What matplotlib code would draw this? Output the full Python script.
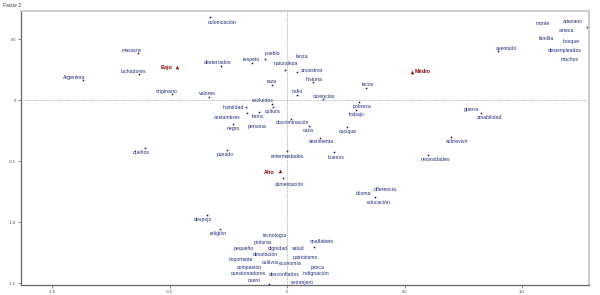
import matplotlib
matplotlib.use("Agg")
import matplotlib.pyplot as plt

# Word coordinates (Factor 1, Factor 2)
words = ["masacre", "luchadores", "Argentina", "originario", "colonización", "desterrados",
         "respeto", "pueblo", "naturaleza", "lanza", "ancestros", "historia", "raza", "indio",
         "carencias", "tacos", "valores", "excluidos", "cultura", "humildad", "costumbres",
         "tierra", "negro", "persona", "discriminación", "caza", "vestimenta", "cacique",
         "pobreza", "trabajo", "pasado", "enfermedades", "buenos", "alimentación", "diferencia",
         "idioma", "educación", "guerra", "amabilidad", "sobrevivir", "necesidades", "dueños",
         "monte", "artesano", "azteca", "familia", "bosque", "asentado", "desempleados", "muchos",
         "despojo", "religión", "tecnología", "pinturas", "pequeño", "dignidad", "salud",
         "analfabeto", "desolación", "patriotismo", "importante", "cultivos", "economía",
         "compasión", "pesca", "cuestionadores", "desconfiados", "indignación", "cuero",
         "extranjero"]
f1 = [-0.634, -0.630, -0.868, -0.489, -0.328, -0.281,
      -0.149, -0.094, -0.009, 0.064, 0.043, 0.111, -0.064, 0.043,
      0.153, 0.336, -0.332, -0.064, -0.060, -0.174, -0.170,
      -0.119, -0.230, -0.128, 0.017, 0.094, 0.140, 0.255,
      0.306, 0.294, -0.255, 0.000, 0.200, -0.017, 0.417,
      0.323, 0.374, 0.783, 0.826, 0.698, 0.600, -0.604,
      1.089, 1.277, 1.187, 1.106, 1.209, 0.898, 1.183, 1.204,
      -0.340, -0.285, -0.051, -0.102, -0.183, -0.038, 0.047,
      0.115, -0.094, 0.077, -0.196, -0.072, 0.013,
      -0.162, 0.132, -0.166, -0.013, 0.123, -0.077,
      0.064]
f2 = [0.385, 0.213, 0.164, 0.049, 0.680, 0.279,
      0.303, 0.336, 0.246, 0.361, 0.230, 0.148, 0.123, 0.041,
      0.008, 0.098, 0.025, -0.033, -0.057, -0.057, -0.107,
      -0.098, -0.197, -0.213, -0.156, -0.213, -0.311, -0.221,
      -0.016, -0.082, -0.410, -0.418, -0.426, -0.639, -0.730,
      -0.770, -0.795, -0.074, -0.107, -0.303, -0.451, -0.393,
      0.631, 0.598, 0.574, 0.508, 0.484, 0.402, 0.410, 0.336,
      -0.943, -1.057, -1.107, -1.164, -1.213, -1.213, -1.213,
      -1.205, -1.262, -1.287, -1.303, -1.328, -1.336,
      -1.369, -1.369, -1.418, -1.426, -1.418, -1.508,
      -1.492]
# whether the point marker is visible
show_dot = [1, 1, 1, 1, 1, 1,
            1, 1, 1, 0, 1, 1, 1, 1,
            1, 1, 1, 1, 1, 1, 1,
            1, 1, 0, 1, 1, 1, 1,
            1, 1, 1, 1, 1, 1, 0,
            0, 1, 0, 1, 1, 1, 1,
            0, 1, 0, 0, 0, 1, 0, 0,
            1, 1, 0, 0, 0, 0, 0,
            1, 0, 0, 0, 0, 0,
            0, 0, 0, 0, 0, 1,
            0]
# label offsets from the point (pixels, screen down positive)
label_off = [(-6, -3), (-6, -3), (-9, -3), (-5, -3), (12, 5), (-3, -4),
             (-1, -4), (8, -6), (1, -7), (0, 0), (15, -1), (1, -3), (0, -4), (0, -4),
             (1, -3), (2, -4), (-2, -4), (-9, -4), (0, 4), (-13, 0), (-20, 4),
             (-1, 4), (0, 4), (0, 0), (1, 3), (-1, 4), (2, 4), (1, 4),
             (3, 4), (1, 4), (-2, 4), (0, 5), (2, 5), (6, 6), (0, 0),
             (0, 0), (4, 5), (0, 0), (8, 4), (6, 4), (7, 4), (-4, 4),
             (0, 0), (-14, -6), (0, 0), (0, 0), (0, 0), (8, -3), (0, 0), (0, 0),
             (-4, 4), (-2, 4), (0, 0), (0, 0), (0, 0), (0, 0), (0, 0),
             (8, -6), (0, 0), (0, 0), (0, 0), (0, 0), (0, 0),
             (0, 0), (0, 0), (0, 0), (0, 0), (0, 0), (-15, -4),
             (0, 0)]

# Supplementary categories
groups = ["Bajo", "Medio", "Alto"]
g1 = [-0.468, 0.532, -0.030]
g2 = [0.270, 0.230, -0.582]
group_off = [(-10, 0), (11, 0), (-11, 1)]

xticks = [-1.0, -0.5, 0.0, 0.5, 1.0]
xticklabels = ["-1.0", "-0.5", "0", "0.5", "1.0"]
yticks = [0.5, 0.0, -0.5, -1.0, -1.5]
yticklabels = ["0.5", "0", "-0.5", "-1.0", "-1.5"]

plt.rcParams['font.family'] = ['Liberation Sans', 'DejaVu Sans']
fig = plt.figure(figsize=(6.0, 2.95), dpi=100)
ax = fig.add_axes([21/600, 10/295, 568/600, 274/295])
ax.set_xlim(-1.132, 1.285)
ax.set_ylim(-1.516, 0.73)

ax.axhline(0, color='#999999', lw=0.6, ls=(0, (1, 1.2)), zorder=1)
ax.axvline(0, color='#999999', lw=0.6, ls=(0, (1, 1.2)), zorder=1)

navy = '#1f2a7a'
for w, x, y, s, (dx, dy) in zip(words, f1, f2, show_dot, label_off):
    if s:
        ax.plot(x, y, marker='s', ms=1.1, color='#101050', mec='none', ls='none', zorder=2)
    ax.annotate(w, (x, y), xytext=(dx, -dy), textcoords='offset pixels',
                ha='center', va='center', fontsize=3.7, color=navy, zorder=3)

darkred = '#8b1010'
for g, x, y, (dx, dy) in zip(groups, g1, g2, group_off):
    ax.plot(x, y, marker='^', ms=2.6, color=darkred, mec='none', ls='none', zorder=2)
    ax.annotate(g, (x, y), xytext=(dx, -dy), textcoords='offset pixels',
                ha='center', va='center', fontsize=4.0, color=darkred,
                fontweight='bold', zorder=3)

ax.set_xticks(xticks)
ax.set_xticklabels(xticklabels)
ax.set_yticks(yticks)
ax.set_yticklabels(yticklabels)
ax.tick_params(axis='both', labelsize=3, length=2, width=0.5, color='#555555',
               labelcolor='#444444', pad=1.5)

for side in ['left', 'bottom']:
    ax.spines[side].set_color('#666666')
    ax.spines[side].set_linewidth(0.9)
for side in ['top', 'right']:
    ax.spines[side].set_color('#cccccc')
    ax.spines[side].set_linewidth(1.4)

fig.text(3/600, 1 - 3/295, 'Factor 2', fontsize=3.5, color='#333333', ha='left', va='top')

fig.savefig('out.png', dpi=100)
